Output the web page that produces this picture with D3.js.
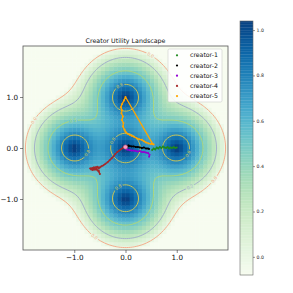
<!DOCTYPE html>
<html>
<head>
<meta charset="utf-8">
<script src="https://cdn.jsdelivr.net/npm/d3@7"></script>
<style>
  body { margin: 0; background: #fff; }
  svg { display: block; font-family: "DejaVu Sans", sans-serif; }
</style>
</head>
<body>
<div id="chart"></div>
<script>

// landscape peaks
var peakX = [0, 0, -1, 1, 0];
var peakY = [0, 1, 0, 0, -1];
var peakDecay = 0.22, levelTop = 1.078, levelSlope = 0.25;

var contourLevels = [0.0, 0.2, 0.5, 0.8];
var contourColors = ["#f4a582", "#9eaac9", "#b3d873", "#d8c94c"];

// where the inline contour labels sit (approx)
var labelLevel = [0.0, 0.0, 0.0, 0.0, 0.2, 0.5, 0.8, 0.8, 0.8, 0.8, 0.8];
var labelX = [-1.88, 0.51, 1.75, -0.67, 1.22, -1.0, -0.12, -0.84, -0.22, -0.08, 1.2];
var labelY = [0.61, 1.89, -0.66, -1.82, -0.64, 0.46, 1.22, -0.07, 0.12, -0.83, -0.11];

var axisTicks = [-1, 0, 1];
var colorbarTicks = [0, 0.2, 0.4, 0.6, 0.8, 1.0];
var colorMin = -0.08, colorMax = 1.04;

var creators = ["creator-1", "creator-2", "creator-3", "creator-4", "creator-5"];
var creatorColors = ["#1f8a1f", "#000000", "#9400d3", "#a52a2a", "#ffa500"];

var c1X = [0.52, 0.55, 0.58, 0.61, 0.64, 0.67, 0.70, 0.73, 0.76, 0.79, 0.82, 0.85, 0.88, 0.91, 0.94, 0.97, 1.00];
var c1Y = [-0.04, -0.01, -0.03, 0.01, -0.01, 0.02, 0.0, 0.03, 0.01, 0.0, 0.02, -0.01, 0.01, 0.0, 0.02, 0.0, 0.01];
var c2X = [-0.04, 0.02, 0.06, 0.03, 0.08, 0.12, 0.16, 0.2, 0.24, 0.28, 0.32, 0.36, 0.4, 0.44, 0.46];
var c2Y = [0.0, 0.04, 0.05, 0.02, 0.04, 0.03, 0.03, 0.02, 0.02, 0.01, 0.0, 0.01, -0.01, -0.01, -0.02];
var c3X = [-0.02, 0.03, 0.08, 0.12, 0.16, 0.2, 0.24, 0.28, 0.32, 0.36, 0.4, 0.44, 0.47, 0.46];
var c3Y = [0.0, -0.03, -0.04, -0.05, -0.05, -0.06, -0.07, -0.06, -0.08, -0.08, -0.09, -0.1, -0.13, -0.17];
var c4X = [0.0, -0.04, -0.08, -0.12, -0.16, -0.2, -0.23, -0.27, -0.31, -0.35, -0.39, -0.43, -0.47, -0.5,
           -0.55, -0.62, -0.69, -0.64, -0.57, -0.52, -0.5, -0.54, -0.6, -0.67, -0.58, -0.52];
var c4Y = [0.03, 0.01, -0.02, -0.05, -0.08, -0.12, -0.16, -0.2, -0.24, -0.28, -0.31, -0.34, -0.36, -0.38,
           -0.37, -0.38, -0.4, -0.43, -0.41, -0.45, -0.51, -0.44, -0.42, -0.42, -0.38, -0.4];
var c5X = [0.53, 0.0, -0.03, -0.07, -0.09, -0.07, -0.08, -0.05, -0.07, -0.04, -0.05, -0.02, 0.0, 0.04,
           0.08, 0.12, 0.17, 0.22, 0.27, 0.32, 0.36, 0.4, 0.45, 0.5, 0.55];
var c5Y = [0.08, 1.0, 0.93, 0.86, 0.8, 0.74, 0.68, 0.62, 0.55, 0.49, 0.42, 0.36, 0.32, 0.28,
           0.26, 0.24, 0.22, 0.19, 0.17, 0.16, 0.13, 0.11, 0.09, 0.08, 0.07];
var trajX = [c1X, c2X, c3X, c4X, c5X];
var trajY = [c1Y, c2Y, c3Y, c4Y, c5Y];

var startX = [0.0], startY = [0.02];

var svg = d3.select("#chart").append("svg").attr("width", 293).attr("height", 293);

var x = d3.scaleLinear().domain([-2, 2]).range([23, 228]);
var y = d3.scaleLinear().domain([-2, 2]).range([250, 46]);
var color = d3.scaleSequential(d3.interpolateGnBu).domain([colorMin, colorMax]).clamp(true);

function utility(px, py) {
  var s = 0;
  for (var k = 0; k < peakX.length; k++) {
    var d = Math.sqrt((px - peakX[k]) * (px - peakX[k]) + (py - peakY[k]) * (py - peakY[k]));
    s += Math.exp(-d / peakDecay);
  }
  return levelTop + levelSlope * Math.log(s);
}

var defs = svg.append("defs");
defs.append("clipPath").attr("id", "plotClip")
  .append("rect").attr("x", 23).attr("y", 46).attr("width", 205).attr("height", 204);

// heatmap (coarse like imshow)
var nCell = 50, cell = 4 / nCell;
var cells = d3.range(nCell * nCell).map(function(k) {
  var i = k % nCell, j = Math.floor(k / nCell);
  var cx = -2 + i * cell, cy = -2 + j * cell;
  return {x0: cx, y0: cy, v: utility(cx + cell / 2, cy + cell / 2)};
});
svg.append("g").attr("clip-path", "url(#plotClip)")
  .selectAll("rect").data(cells).enter().append("rect")
  .attr("x", function(d) { return x(d.x0); })
  .attr("y", function(d) { return y(d.y0 + cell); })
  .attr("width", x(cell) - x(0) + 0.4)
  .attr("height", y(0) - y(cell) + 0.4)
  .attr("fill", function(d) { return color(d.v); });

// contours on a finer grid, a bit larger than the view
var gN = 120, gMin = -2.4, gStep = 4.8 / gN;
var grid = new Array(gN * gN);
for (var j = 0; j < gN; j++)
  for (var i = 0; i < gN; i++)
    grid[j * gN + i] = utility(gMin + (i + 0.5) * gStep, gMin + (j + 0.5) * gStep);

var contours = d3.contours().size([gN, gN]).thresholds(contourLevels)(grid);
function toData(p) { return [gMin + p[0] * gStep, gMin + p[1] * gStep]; }

var line = d3.line().x(function(p) { return x(p[0]); }).y(function(p) { return y(p[1]); });

// label positions snapped to the contour
var labels = labelLevel.map(function(lv, n) {
  var ci = contourLevels.indexOf(lv);
  var best = null, bestD = Infinity;
  contours[ci].coordinates.forEach(function(poly) {
    poly.forEach(function(ring) {
      var pts = ring.map(toData);
      pts.forEach(function(p, k) {
        var d = (p[0] - labelX[n]) * (p[0] - labelX[n]) + (p[1] - labelY[n]) * (p[1] - labelY[n]);
        if (d < bestD) { bestD = d; best = {pts: pts, k: k}; }
      });
    });
  });
  var pts = best.pts, k = best.k;
  var a = pts[Math.max(0, k - 2)], b = pts[Math.min(pts.length - 1, k + 2)];
  var ang = Math.atan2(y(b[1]) - y(a[1]), x(b[0]) - x(a[0])) * 180 / Math.PI;
  if (ang > 90) ang -= 180;
  if (ang < -90) ang += 180;
  return {px: x(pts[k][0]), py: y(pts[k][1]), ang: ang, level: lv, color: contourColors[ci]};
});

var mask = defs.append("mask").attr("id", "gapMask").attr("maskUnits", "userSpaceOnUse");
mask.append("rect").attr("x", 0).attr("y", 0).attr("width", 293).attr("height", 293).attr("fill", "#fff");
mask.selectAll("rect.gap").data(labels).enter().append("rect").attr("class", "gap")
  .attr("x", -4.6).attr("y", -2.4).attr("width", 9.2).attr("height", 4.8).attr("fill", "#000")
  .attr("transform", function(d) { return "translate(" + d.px + "," + d.py + ") rotate(" + d.ang + ")"; });

svg.append("g").attr("clip-path", "url(#plotClip)")
  .append("g").attr("mask", "url(#gapMask)")
  .selectAll("path").data(contours).enter().append("path")
  .attr("d", function(c) {
    var s = "";
    c.coordinates.forEach(function(poly) {
      poly.forEach(function(ring) { s += line(ring.map(toData)) + "Z"; });
    });
    return s;
  })
  .attr("fill", "none")
  .attr("stroke", function(c, k) { return contourColors[k]; })
  .attr("stroke-width", 0.9);

svg.append("g").selectAll("text").data(labels).enter().append("text")
  .attr("transform", function(d) { return "translate(" + d.px + "," + d.py + ") rotate(" + d.ang + ")"; })
  .attr("text-anchor", "middle").attr("dy", "0.35em")
  .attr("font-size", 4.3).attr("fill", function(d) { return d.color; })
  .text(function(d) { return d3.format(".1f")(d.level); });

// creator trajectories
var trajG = svg.append("g").attr("clip-path", "url(#plotClip)");
creators.forEach(function(name, n) {
  var pts = trajX[n].map(function(v, k) { return [v, trajY[n][k]]; });
  trajG.append("path").attr("d", line(pts)).attr("fill", "none")
    .attr("stroke", creatorColors[n]).attr("stroke-width", 1.3).attr("stroke-linejoin", "round");
  trajG.selectAll("circle.c" + n).data(pts).enter().append("circle").attr("class", "c" + n)
    .attr("cx", function(p) { return x(p[0]); }).attr("cy", function(p) { return y(p[1]); })
    .attr("r", 1).attr("fill", creatorColors[n]);
});

svg.selectAll("circle.start").data(startX).enter().append("circle").attr("class", "start")
  .attr("cx", function(d) { return x(d); }).attr("cy", function(d, k) { return y(startY[k]); })
  .attr("r", 2.1).attr("fill", "#f7a1c4").attr("stroke", "#d0628f").attr("stroke-width", 0.6);

// frame and axes
svg.append("rect").attr("x", 23).attr("y", 46).attr("width", 205).attr("height", 204)
  .attr("fill", "none").attr("stroke", "#555").attr("stroke-width", 0.8);

var fmt = d3.format(".1f");
var xAxis = svg.append("g").attr("transform", "translate(0,250)")
  .call(d3.axisBottom(x).tickValues(axisTicks).tickFormat(fmt).tickSize(3).tickPadding(2));
var yAxis = svg.append("g").attr("transform", "translate(23,0)")
  .call(d3.axisLeft(y).tickValues(axisTicks).tickFormat(fmt).tickSize(3).tickPadding(2));
[xAxis, yAxis].forEach(function(a) {
  a.select(".domain").remove();
  a.selectAll(".tick line").attr("stroke", "#333").attr("stroke-width", 0.6);
  a.selectAll("text").attr("font-size", 7.2).attr("fill", "#111").attr("font-family", "DejaVu Sans");
});

svg.append("text").attr("x", 125.5).attr("y", 43).attr("text-anchor", "middle")
  .attr("font-size", 6.3).attr("fill", "#111").text("Creator Utility Landscape");

// legend
var lg = svg.append("g");
lg.append("rect").attr("x", 168).attr("y", 49).attr("width", 54).attr("height", 53).attr("rx", 1.5)
  .attr("fill", "#fff").attr("fill-opacity", 0.85).attr("stroke", "#ccc").attr("stroke-width", 0.6);
creators.forEach(function(name, n) {
  var ly = 55.3 + n * 10.2;
  lg.append("circle").attr("cx", 177).attr("cy", ly).attr("r", 1.1).attr("fill", creatorColors[n]);
  lg.append("text").attr("x", 190).attr("y", ly).attr("dy", "0.35em")
    .attr("font-size", 6.2).attr("fill", "#111").text(name);
});

// colorbar
var cb = d3.scaleLinear().domain([colorMin, colorMax]).range([275, 21]);
var steps = d3.range(0, 160).map(function(k) { return colorMin + (colorMax - colorMin) * k / 160; });
var dv = (colorMax - colorMin) / 160;
svg.append("g").selectAll("rect").data(steps).enter().append("rect")
  .attr("x", 240).attr("width", 13)
  .attr("y", function(v) { return cb(v + dv); })
  .attr("height", cb(0) - cb(dv) + 0.3)
  .attr("fill", function(v) { return color(v + dv / 2); });
svg.append("rect").attr("x", 240).attr("y", 21).attr("width", 13).attr("height", 254)
  .attr("fill", "none").attr("stroke", "#666").attr("stroke-width", 0.6);
var cbAxis = svg.append("g").attr("transform", "translate(253,0)")
  .call(d3.axisRight(cb).tickValues(colorbarTicks).tickFormat(fmt).tickSize(2).tickPadding(1.5));
cbAxis.select(".domain").remove();
cbAxis.selectAll(".tick line").attr("stroke", "#333").attr("stroke-width", 0.5);
cbAxis.selectAll("text").attr("font-size", 4.6).attr("fill", "#222").attr("font-family", "DejaVu Sans");

</script>
</body>
</html>
